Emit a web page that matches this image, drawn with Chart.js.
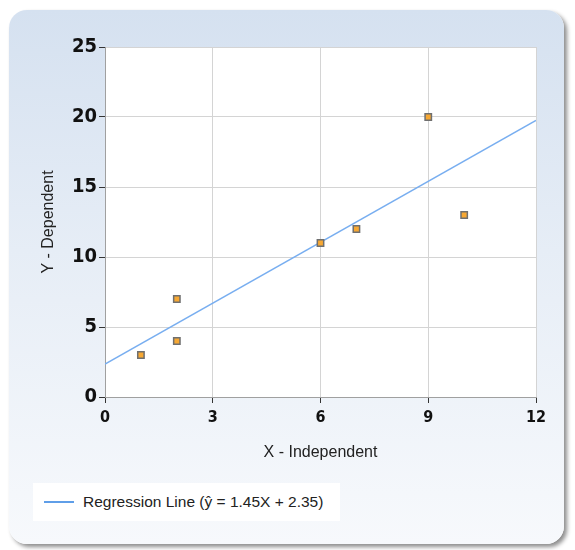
<!DOCTYPE html>
<html>
<head>
<meta charset="utf-8">
<script src="https://cdn.jsdelivr.net/npm/chart.js@4.4.1/dist/chart.umd.min.js"></script>
<style>
  html, body { margin: 0; padding: 0; background: #fff; }
  body { width: 575px; height: 550px; position: relative; overflow: hidden; }
  .card {
    position: absolute; left: 9px; top: 10px; width: 555px; height: 534px;
    border-radius: 18px;
    background: linear-gradient(#d5e1f0 0%, #e6edf6 45%, #f7f9fc 100%);
    box-shadow: 3px 3px 4px rgba(0, 0, 0, 0.45);
  }
  #wrap { position: absolute; left: 0; top: 0; width: 575px; height: 550px; }
  .legend {
    position: absolute; left: 33px; top: 483px; width: 307px; height: 38px;
    background: #fff; display: flex; align-items: center;
    font: 15.5px "Liberation Sans", Arial, sans-serif; color: #222;
  }
  .legend .swatch { width: 30px; height: 2px; background: #5f9ee8; margin: 0 9px 0 11px; }
</style>
</head>
<body>
<div class="card"></div>
<div id="wrap"><canvas id="myChart"></canvas></div>
<div class="legend"><span class="swatch"></span><span id="legendText"></span></div>
<script>
// データ
const xValues = [1, 2, 2, 6, 7, 9, 10];
const yValues = [3, 4, 7, 11, 12, 20, 13];
const xTicks = [0, 3, 6, 9, 12];
const yTicks = [0, 5, 10, 15, 20, 25];
const slope = 1.45;
const intercept = 2.35;

const NARROW = "'Liberation Sans Narrow', 'DejaVu Sans Condensed', sans-serif";
const Y_TICK_FONT = { family: NARROW, size: 20, weight: "bold" };
const X_TICK_FONT = { family: NARROW, size: 16, weight: "bold" };
const TITLE_FONT = { family: "'Liberation Sans', Arial, sans-serif", size: 16 };

const points = xValues.map((x, i) => ({ x, y: yValues[i] }));
const xMin = xTicks[0];
const xMax = xTicks[xTicks.length - 1];
const lineData = [
  { x: xMin, y: slope * xMin + intercept },
  { x: xMax, y: slope * xMax + intercept },
];

document.getElementById("legendText").textContent =
  `Regression Line (\u0177 = ${slope}X + ${intercept})`;

// プロット領域を白で塗る
const plotBackground = {
  id: "plotBackground",
  beforeDraw(chart) {
    const { ctx, chartArea: a } = chart;
    ctx.save();
    ctx.fillStyle = "#fff";
    ctx.fillRect(a.left, a.top, a.right - a.left, a.bottom - a.top);
    ctx.restore();
  },
};

const axisCommon = {
  grid: { color: "#d4d4d4", tickColor: "#333", tickLength: 6, lineWidth: 1 },
  border: { color: "#a0a0a0" },
};

new Chart(document.getElementById("myChart"), {
  data: {
    datasets: [
      {
        type: "line",
        label: "Regression Line",
        data: lineData,
        borderColor: "#78aef0",
        borderWidth: 1.5,
        pointRadius: 0,
        fill: false,
        order: 2,
      },
      {
        type: "scatter",
        label: "Data",
        data: points,
        pointStyle: "rect",
        pointRadius: 4.5,
        backgroundColor: "#f7a833",
        borderColor: "#6f6f6f",
        borderWidth: 1.5,
        order: 1,
      },
    ],
  },
  options: {
    responsive: true,
    maintainAspectRatio: false,
    animation: false,
    layout: { padding: { left: 39, right: 39, top: 47, bottom: 83 } },
    plugins: { legend: { display: false }, tooltip: { enabled: false } },
    scales: {
      x: {
        type: "linear",
        min: xMin,
        max: xMax,
        ...axisCommon,
        afterBuildTicks: (s) => { s.ticks = xTicks.map((v) => ({ value: v })); },
        afterFit: (s) => { s.height = 70; },
        ticks: { font: X_TICK_FONT, color: "#111", padding: 5, maxRotation: 0 },
        title: { display: true, text: "X - Independent", font: TITLE_FONT, color: "#222", padding: { top: 0, bottom: 5 } },
      },
      y: {
        type: "linear",
        min: yTicks[0],
        max: yTicks[yTicks.length - 1],
        ...axisCommon,
        afterBuildTicks: (s) => { s.ticks = yTicks.map((v) => ({ value: v })); },
        afterFit: (s) => { s.width = 66; },
        ticks: { font: Y_TICK_FONT, color: "#111", padding: 2 },
        title: { display: true, text: "Y - Dependent", font: TITLE_FONT, color: "#222", padding: { top: 0, bottom: 0 } },
      },
    },
  },
  plugins: [plotBackground],
});
</script>
</body>
</html>
